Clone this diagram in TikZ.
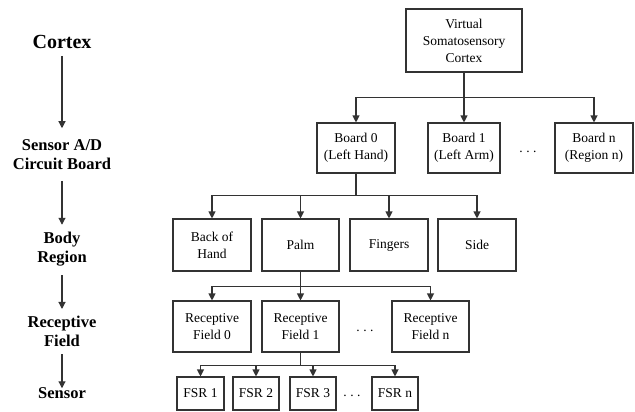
\documentclass[tikz,border=0pt]{standalone}
\usepackage{fontspec}
\setmainfont{Liberation Serif}
\usetikzlibrary{arrows.meta}
\definecolor{ln}{HTML}{333333}
\newcommand{\sdots}{.\hspace{3.5pt}.\hspace{3.5pt}.}
\tikzset{
  box/.style={draw=ln, line width=1.1pt, align=center, inner sep=1pt,
    font=\fontsize{13.5}{17}\selectfont, minimum height=50pt},
  lab/.style={align=center, inner sep=2pt, font=\fontsize{16.5}{19}\selectfont\bfseries},
  arr/.style={draw=ln, line width=1.1pt, -{Triangle[width=7pt,length=7pt]}},
  dts/.style={font=\fontsize{13.5}{17}\selectfont, inner sep=0pt}
}
\begin{document}
\begin{tikzpicture}[x=1pt,y=-1pt]
\useasboundingbox (0,0) rectangle (635,412);
% left column
\node[lab, font=\fontsize{20}{22}\selectfont\bfseries] (cortex) at (62,42) {Cortex};
\node[lab] (sad) at (62,154.5) {Sensor A/D\\Circuit Board};
\node[lab] (body) at (62,249) {Body\\Region};
\node[lab] (rec) at (62,331.5) {Receptive\\Field};
\node[lab] (sen) at (62,393) {Sensor};
\draw[arr, shorten <=5pt, shorten >=9pt] (cortex) -- (sad);
\draw[arr, shorten <=9pt, shorten >=5pt] (sad) -- (body);
\draw[arr, shorten <=7pt, shorten >=5pt] (body) -- (rec);
\draw[arr, shorten <=5pt, shorten >=-3pt] (rec) -- (sen);
% tree
\node[box, minimum width=116pt, minimum height=63pt] (vsc) at (464,40.5) {Virtual\\Somatosensory\\Cortex};
\node[box, minimum width=78pt] (b0) at (356,148) {Board 0\\(Left Hand)};
\node[box, minimum width=72pt] (b1) at (464,148) {Board 1\\(Left Arm)};
\node[box, minimum width=78pt] (bn) at (594,148) {Board n\\(Region n)};
\node[dts] (d1) at (528,152) {\sdots};
\draw[arr] (vsc.south) -- ++(0,25) -| (b0.north);
\draw[arr] (vsc.south) -- (b1.north);
\draw[arr] (vsc.south) -- ++(0,25) -| (bn.north);
% body region
\node[box, minimum width=78pt, minimum height=52pt] (back) at (212,245) {Back of\\Hand};
\node[box, minimum width=77pt, minimum height=52pt] (palm) at (300.5,245) {Palm};
\node[box, minimum width=78pt, minimum height=52pt] (fing) at (389,245) {Fingers};
\node[box, minimum width=78pt, minimum height=52pt] (side) at (477,245) {Side};
\draw[arr] (b0.south) -- ++(0,22) -| (back.north);
\draw[arr] (b0.south) -- ++(0,22) -| (palm.north);
\draw[arr] (b0.south) -- ++(0,22) -| (fing.north);
\draw[arr] (b0.south) -- ++(0,22) -| (side.north);
% receptive fields
\node[box, minimum width=78pt, minimum height=51pt] (rf0) at (212,326.5) {Receptive\\Field 0};
\node[box, minimum width=77pt, minimum height=51pt] (rf1) at (300.5,326.5) {Receptive\\Field 1};
\node[box, minimum width=77pt, minimum height=51pt] (rfn) at (430.5,326.5) {Receptive\\Field n};
\node[dts] (d2) at (365,331) {\sdots};
\draw[arr] (palm.south) -- ++(0,15) -| (rf0.north);
\draw[arr] (palm.south) -- (rf1.north);
\draw[arr] (palm.south) -- ++(0,15) -| (rfn.north);
% sensors
\node[box, minimum width=47pt, minimum height=33pt] (f1) at (200.5,393.5) {FSR 1};
\node[box, minimum width=46pt, minimum height=33pt] (f2) at (256,393.5) {FSR 2};
\node[box, minimum width=46pt, minimum height=33pt] (f3) at (313,393.5) {FSR 3};
\node[box, minimum width=46pt, minimum height=33pt] (fn) at (395,393.5) {FSR n};
\node[dts] (d3) at (352,396) {\sdots};
\draw[arr] (rf1.south) -- ++(0,13) -| (f1.north);
\draw[arr] (rf1.south) -- ++(0,13) -| (f2.north);
\draw[arr] (rf1.south) -- ++(0,13) -| (f3.north);
\draw[arr] (rf1.south) -- ++(0,13) -| (fn.north);
\end{tikzpicture}
\end{document}
